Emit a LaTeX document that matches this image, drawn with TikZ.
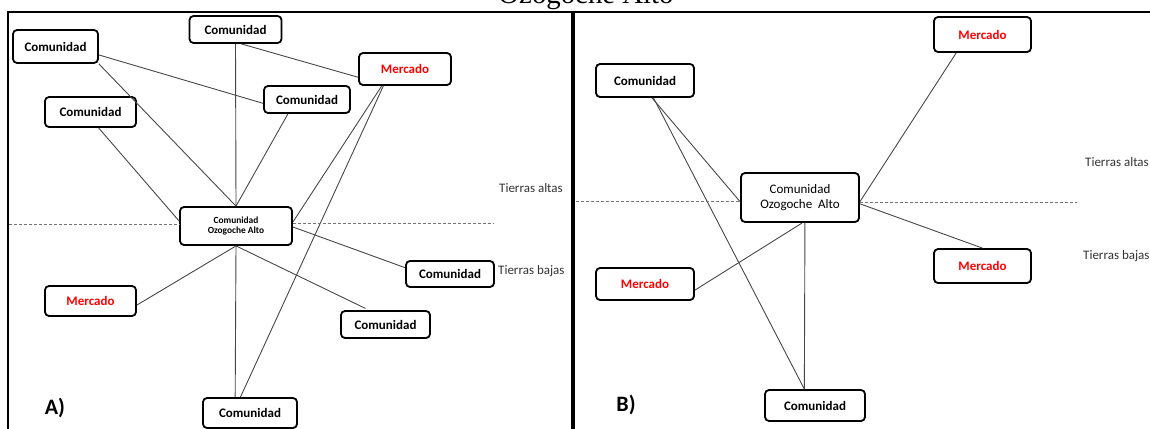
\documentclass[tikz,border=0pt]{standalone}
\usepackage{fontspec}
\setmainfont{Carlito}
\newfontfamily\tituloserif{Liberation Serif}

\begin{document}
\begin{tikzpicture}[x=1pt, y=-1pt,
        caja/.style={draw, line width=1.8pt, rounded corners=4pt, fill=white, inner sep=0pt, font=\bfseries\fontsize{13}{15}\selectfont},
        mercado/.style={caja, text=red},
        centro/.style={caja, align=center, font=\bfseries\fontsize{9.4}{10.5}\selectfont},
        centroB/.style={caja, align=center, font=\fontsize{13}{14.5}\selectfont},
        enlace/.style={draw=black!72, line width=0.9pt},
        limite/.style={draw=black!55, line width=1pt, dash pattern=on 3pt off 2pt},
        zona/.style={anchor=west, inner sep=0pt, text=black!80, font=\fontsize{13}{15}\selectfont},
        panel/.style={inner sep=0pt, font=\bfseries\fontsize{22}{24}\selectfont}]
        \useasboundingbox (0,0) rectangle (1150,428);

        \node[font=\tituloserif\fontsize{28.8}{30}\selectfont, anchor=base] (titulo) at (586,4) {Ozogoche Alto};
        \draw[line width=2.4pt] (8,430) -- (8,12) -- (1152,12);
        \draw[line width=4pt] (573,12) -- (573,430);

        \node[caja, minimum width=85, minimum height=33] (cA1) at (55.5,46.5) {Comunidad};
        \node[caja, minimum width=92, minimum height=27] (cA2) at (235.5,29.5) {Comunidad};
        \node[mercado, minimum width=92, minimum height=32] (mA1) at (405,69) {Mercado};
        \node[caja, minimum width=86, minimum height=27] (cA3) at (307,99.5) {Comunidad};
        \node[caja, minimum width=91, minimum height=30] (cA4) at (90.5,112) {Comunidad};
        \node[centro, minimum width=112, minimum height=38] (oA) at (236,226) {Comunidad\\Ozogoche Alto};
        \node[caja, minimum width=88, minimum height=26] (cA5) at (450,274) {Comunidad};
        \node[mercado, minimum width=91, minimum height=30] (mA2) at (90.5,301) {Mercado};
        \node[caja, minimum width=89, minimum height=27] (cA6) at (385.5,324.5) {Comunidad};
        \node[caja, minimum width=94, minimum height=30] (cA7) at (250,413) {Comunidad};

        \draw[enlace] (cA1.-11) -- (cA3.185);
        \draw[enlace] (cA1.south east) -- (oA.north);
        \draw[enlace] (cA2.south) -- (oA.north);
        \draw[enlace] (cA2.-68) -- (mA1.190);
        \draw[enlace] (cA3.217) -- (oA.north);
        \draw[enlace] (cA4.-63) -- (oA.175);
        \draw[enlace] (mA1.216) -- (oA.4);
        \draw[enlace] (mA1.218) -- (cA7.121);
        \draw[enlace] (oA.-1) -- (cA5.172);
        \draw[enlace] (oA.south) -- (mA2.-5);
        \draw[enlace, shorten >=4pt] (oA.south) -- (cA6.139);
        \draw[enlace] (oA.south) -- (cA7.133);

        \coordinate (dA1) at (9,224);
        \coordinate (dA2) at (493,223);
        \draw[limite] (dA1) -- (oA.west |- dA1);
        \draw[limite] (oA.east |- dA2) -- (dA2);
        \node[zona] (taA) at (499,188) {Tierras altas};
        \node[zona] (tbA) at (498,271) {Tierras bajas};
        \node[panel] (pA) at (55,408) {A)};

        \node[caja, minimum width=98, minimum height=33] (cB1) at (645,80.5) {Comunidad};
        \node[mercado, minimum width=97, minimum height=35] (mB1) at (982.5,34.5) {Mercado};
        \node[centroB, minimum width=118, minimum height=49] (oB) at (800,197.5) {Comunidad\\Ozogoche\ \ Alto};
        \node[mercado, minimum width=97, minimum height=34] (mB2) at (982.5,266) {Mercado};
        \node[mercado, minimum width=98, minimum height=32] (mB3) at (645,284) {Mercado};
        \node[caja, minimum width=100, minimum height=31] (cB2) at (815,405.5) {Comunidad};

        \draw[enlace] (cB1.-68) -- (oB.184);
        \draw[enlace] (cB1.-64) -- (cB2.123);
        \draw[enlace] (mB1.215) -- (oB.-4);
        \draw[enlace] (oB.-6) -- (mB2.north);
        \draw[enlace] (oB.-85) -- (mB3.-7);
        \draw[enlace] (oB.-79) -- (cB2.123);

        \coordinate (dB1) at (576,201);
        \coordinate (dB2) at (1077,202);
        \draw[limite] (dB1) -- (oB.west |- dB1);
        \draw[limite] (oB.east |- dB2) -- (dB2);
        \node[zona] (taB) at (1085,162) {Tierras altas};
        \node[zona] (tbB) at (1083,256) {Tierras bajas};
        \node[panel] (pB) at (626,405) {B)};

    \end{tikzpicture}
\end{document}
